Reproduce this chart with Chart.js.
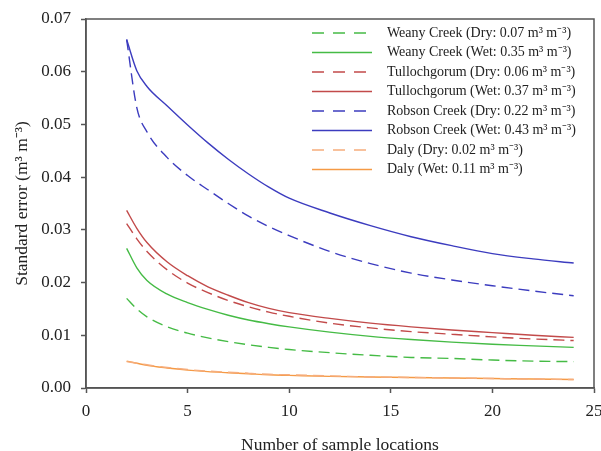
<!DOCTYPE html>
<html>
<head>
<meta charset="utf-8">
<script src="https://cdn.jsdelivr.net/npm/chart.js@4/dist/chart.umd.min.js"></script>
<style>
  html, body { margin: 0; padding: 0; background: #fff; }
  #wrap { width: 601px; height: 451px; }
</style>
</head>
<body>
<div id="wrap"><canvas id="errChart" width="601" height="451"></canvas></div>
<script>
// number of sample locations (x positions)
const sampleSizes = [2, 2.5, 3, 4, 5, 6, 7, 8, 9, 10, 12, 14, 16, 18, 20, 22, 24];

// standard error (m3 m-3)
const weanyDry = [0.0170, 0.0150, 0.0135, 0.0116, 0.0104, 0.0095, 0.0088, 0.0082, 0.0077, 0.0073, 0.0067, 0.0062, 0.0058, 0.0056, 0.0053, 0.0051, 0.0050];
const weanyWet = [0.0265, 0.0228, 0.0204, 0.0178, 0.0162, 0.0149, 0.0138, 0.0129, 0.0122, 0.0116, 0.0106, 0.0098, 0.0092, 0.0087, 0.0083, 0.0080, 0.0077];
const tullochDry = [0.0312, 0.0283, 0.0259, 0.0224, 0.0199, 0.0181, 0.0166, 0.0154, 0.0144, 0.0136, 0.0123, 0.0114, 0.0107, 0.0102, 0.0097, 0.0093, 0.0090];
const tullochWet = [0.0337, 0.0303, 0.0276, 0.0239, 0.0213, 0.0192, 0.0176, 0.0162, 0.0151, 0.0143, 0.0132, 0.0123, 0.0116, 0.0110, 0.0105, 0.0100, 0.0096];
const robsonDry = [0.0661, 0.0532, 0.0486, 0.0437, 0.0403, 0.0376, 0.0350, 0.0326, 0.0306, 0.0289, 0.0259, 0.0236, 0.0218, 0.0205, 0.0194, 0.0184, 0.0175];
const robsonWet = [0.0661, 0.0602, 0.0572, 0.0535, 0.0499, 0.0465, 0.0434, 0.0406, 0.0381, 0.0360, 0.0332, 0.0308, 0.0287, 0.0270, 0.0255, 0.0245, 0.0237];
const dalyDry = [0.0050, 0.0047, 0.0044, 0.0039, 0.0035, 0.0032, 0.0030, 0.0028, 0.0026, 0.0025, 0.0023, 0.0021, 0.0020, 0.0019, 0.0018, 0.0017, 0.0016];
const dalyWet = [0.0051, 0.0047, 0.0043, 0.0038, 0.0034, 0.0031, 0.0029, 0.0027, 0.0025, 0.0024, 0.0022, 0.0021, 0.0020, 0.0019, 0.0018, 0.0017, 0.0016];

const seriesLabels = [
  "Weany Creek (Dry: 0.07 m³ m⁻³)",
  "Weany Creek (Wet: 0.35 m³ m⁻³)",
  "Tullochgorum (Dry: 0.06 m³ m⁻³)",
  "Tullochgorum (Wet: 0.37 m³ m⁻³)",
  "Robson Creek (Dry: 0.22 m³ m⁻³)",
  "Robson Creek (Wet: 0.43 m³ m⁻³)",
  "Daly (Dry: 0.02 m³ m⁻³)",
  "Daly (Wet: 0.11 m³ m⁻³)"
];
const seriesValues = [weanyDry, weanyWet, tullochDry, tullochWet, robsonDry, robsonWet, dalyDry, dalyWet];
const seriesColors = ["#45bb45", "#45bb45", "#c24a4a", "#c24a4a", "#3c3cbf", "#3c3cbf", "#f6ad7c", "#f59a45"];

const xTicks = [0, 5, 10, 15, 20, 25];
const yTicks = [0, 0.01, 0.02, 0.03, 0.04, 0.05, 0.06, 0.07];

const serif = "'Liberation Serif', 'Times New Roman', serif";
const axisGray = "#555";

function toPoints(values){
  return values.map((v, i) => ({x: sampleSizes[i], y: v}))
}

const datasets = seriesLabels.map((label, i) => {
  const dashed = i % 2 === 0
  return {
    label: label,
    data: toPoints(seriesValues[i]),
    borderColor: seriesColors[i],
    backgroundColor: seriesColors[i],
    borderWidth: 1.4,
    borderDash: dashed ? [11, 6] : [],
    pointRadius: 0,
    cubicInterpolationMode: 'monotone',
    fill: false
  }
})

// frame round the plot area + legend drawn inside it
const framePlugin = {
  id: 'frame',
  afterDraw(chart){
    const {ctx, chartArea} = chart
    ctx.save()
    ctx.strokeStyle = axisGray
    ctx.lineWidth = 1.5
    ctx.strokeRect(chartArea.left, chartArea.top, chartArea.right - chartArea.left, chartArea.bottom - chartArea.top)

    // legend
    const x0 = chartArea.left + 226
    const y0 = chartArea.top + 14
    const rowH = 19.5
    ctx.font = "14px " + serif
    ctx.textBaseline = 'middle'
    chart.data.datasets.forEach((ds, i) => {
      const y = y0 + i * rowH
      ctx.strokeStyle = ds.borderColor
      ctx.lineWidth = 1.5
      ctx.setLineDash(ds.borderDash.length ? [12, 9] : [])
      ctx.beginPath()
      ctx.moveTo(x0, y)
      ctx.lineTo(x0 + 60, y)
      ctx.stroke()
      ctx.setLineDash([])
      ctx.fillStyle = '#222'
      ctx.fillText(ds.label, x0 + 75, y)
    })
    ctx.restore()
  }
}

const ctx = document.getElementById('errChart').getContext('2d')
const myChart = new Chart(ctx, {
  type: 'line',
  data: {datasets: datasets},
  plugins: [framePlugin],
  options: {
    responsive: false,
    animation: false,
    layout: {
      padding: {left: 0, right: 7, top: 19, bottom: 0}
    },
    scales: {
      x: {
        type: 'linear',
        min: 0,
        max: 25,
        afterBuildTicks(scale){
          scale.ticks = xTicks.map(v => ({value: v}))
        },
        afterFit(scale){
          scale.height = 63
          // let the "25" label run past the frame like the original
          scale.paddingLeft = 0
          scale.paddingRight = 0
        },
        grid: {
          drawOnChartArea: false,
          drawTicks: true,
          tickLength: 5,
          tickWidth: 1.5,
          tickColor: axisGray
        },
        border: {display: true, color: axisGray, width: 1.5},
        ticks: {
          color: '#222',
          padding: 8,
          font: {family: serif, size: 17}
        },
        title: {
          display: true,
          text: 'Number of sample locations',
          color: '#222',
          padding: {top: 4, bottom: -3},
          font: {family: serif, size: 17.5, lineHeight: 1}
        }
      },
      y: {
        min: 0,
        max: 0.07,
        afterBuildTicks(scale){
          scale.ticks = yTicks.map(v => ({value: v}))
        },
        afterFit(scale){
          scale.width = 86
          scale.paddingTop = 0
          scale.paddingBottom = 0
        },
        grid: {
          drawOnChartArea: false,
          drawTicks: true,
          tickLength: 5,
          tickWidth: 1.5,
          tickColor: axisGray
        },
        border: {display: true, color: axisGray, width: 1.5},
        ticks: {
          color: '#222',
          padding: 10,
          font: {family: serif, size: 17},
          callback: (v) => v.toFixed(2)
        },
        title: {
          display: true,
          text: 'Standard error (m³ m⁻³)',
          color: '#222',
          padding: {top: 12, bottom: 4},
          font: {family: serif, size: 17.5}
        }
      }
    },
    plugins: {
      legend: {display: false},
      tooltip: {enabled: false}
    }
  }
})
</script>
</body>
</html>
